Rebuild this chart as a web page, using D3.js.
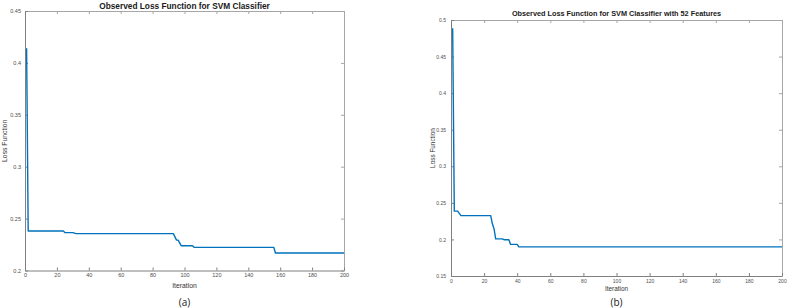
<!DOCTYPE html>
<html>
<head>
<meta charset="utf-8">
<script src="https://cdn.jsdelivr.net/npm/d3@7"></script>
<style>
  body { margin: 0; background: #fff; }
  svg { display: block; }
</style>
</head>
<body>
<div id="chart"></div>
<script>
// left panel (a): loss per iteration
const iterA = [1, 2, 24, 25, 30, 32, 93, 95, 96, 98, 105, 106, 156, 157, 200]
const lossA = [0.414, 0.238, 0.238, 0.2365, 0.2365, 0.2355, 0.2355, 0.2293, 0.2293, 0.2238, 0.2238, 0.2223, 0.2223, 0.2168, 0.2168]

// right panel (b): 52 features
const iterB = [1, 2, 4, 6, 24, 25, 26, 27, 31, 32, 35, 36, 40, 41, 200]
const lossB = [0.4887, 0.2387, 0.2387, 0.2325, 0.2325, 0.2214, 0.2146, 0.2008, 0.2008, 0.1996, 0.1996, 0.1932, 0.1932, 0.1898, 0.1898]

const xTicks = [0, 20, 40, 60, 80, 100, 120, 140, 160, 180, 200]
const yTicksA = [0.2, 0.25, 0.3, 0.35, 0.4, 0.45]
const yTicksB = [0.15, 0.2, 0.25, 0.3, 0.35, 0.4, 0.45, 0.5]

const width = 789
const height = 308

const svg = d3.select("#chart")
    .append("svg")
    .attr("width", width)
    .attr("height", height)
    .attr("viewBox", [0, 0, width, height])

svg.append("rect").attr("width", width).attr("height", height).attr("fill", "#fff")

const fmt = d => d3.format("")(+d.toFixed(2))

function panel(opt) {
    const x = d3.scaleLinear([0, 200], [opt.left, opt.right])
    const y = d3.scaleLinear(opt.yDomain, [opt.bottom, opt.top])
    const g = svg.append("g").attr("font-family", "Arial, 'Liberation Sans', sans-serif")

    // box with inward ticks on all four sides
    const styleAxis = (sel, color, labels) => {
        sel.select(".domain").attr("stroke", color).attr("stroke-width", 1)
        sel.selectAll(".tick line").attr("stroke", color)
        sel.selectAll(".tick text").attr("fill", "#4d4d4d").attr("font-size", opt.tickFont)
        if (!labels) sel.selectAll(".tick text").remove()
    }

    g.append("g")
        .attr("transform", `translate(0,${opt.top})`)
        .call(d3.axisTop(x).tickValues(xTicks).tickSizeInner(-3).tickSizeOuter(0))
        .call(s => styleAxis(s, "#a6a6a6", false))
    g.append("g")
        .attr("transform", `translate(${opt.right},0)`)
        .call(d3.axisRight(y).tickValues(opt.yTicks).tickSizeInner(-3).tickSizeOuter(0))
        .call(s => styleAxis(s, "#a6a6a6", false))
    g.append("g")
        .attr("transform", `translate(0,${opt.bottom})`)
        .call(d3.axisBottom(x).tickValues(xTicks).tickSizeInner(-3).tickSizeOuter(0).tickPadding(opt.xPad))
        .call(s => styleAxis(s, "#808080", true))
    g.append("g")
        .attr("transform", `translate(${opt.left},0)`)
        .call(d3.axisLeft(y).tickValues(opt.yTicks).tickSizeInner(-3).tickSizeOuter(0).tickPadding(opt.yPad).tickFormat(fmt))
        .call(s => styleAxis(s, "#808080", true))

    const line = d3.line()
        .x((d, i) => x(opt.iters[i]))
        .y(d => y(d))

    g.append("path")
        .datum(opt.values)
        .attr("fill", "none")
        .attr("stroke", "#0072BD")
        .attr("stroke-width", 1.4)
        .attr("stroke-linejoin", "round")
        .attr("d", line)

    const cx = (opt.left + opt.right) / 2
    g.append("text")
        .attr("x", cx)
        .attr("y", opt.titleY)
        .attr("text-anchor", "middle")
        .attr("font-weight", "bold")
        .attr("font-size", opt.titleFont)
        .attr("fill", "#1a1a1a")
        .text(opt.title)

    g.append("text")
        .attr("x", cx)
        .attr("y", opt.xLabelY)
        .attr("text-anchor", "middle")
        .attr("font-size", opt.labelFont)
        .attr("fill", "#333")
        .text("Iteration")

    g.append("text")
        .attr("transform", `translate(${opt.yLabelX},${(opt.top + opt.bottom) / 2}) rotate(-90)`)
        .attr("text-anchor", "middle")
        .attr("font-size", opt.labelFont)
        .attr("fill", "#333")
        .text("Loss Function")

    g.append("text")
        .attr("x", cx)
        .attr("y", 306)
        .attr("text-anchor", "middle")
        .attr("font-family", "'Open Sans', sans-serif")
        .attr("font-size", 10)
        .attr("fill", "#222")
        .text(opt.caption)
}

panel({
    left: 25, right: 344, top: 11, bottom: 270.5,
    yDomain: [0.2, 0.45], yTicks: yTicksA,
    iters: iterA, values: lossA,
    title: "Observed Loss Function for SVM Classifier",
    titleFont: 8.3, titleY: 8.5,
    tickFont: 5.5, xPad: 3, yPad: 4,
    labelFont: 6.8, xLabelY: 288, yLabelX: 7,
    caption: "(a)"
})

panel({
    left: 451, right: 782, top: 20, bottom: 276,
    yDomain: [0.15, 0.5], yTicks: yTicksB,
    iters: iterB, values: lossB,
    title: "Observed Loss Function for SVM Classifier with 52 Features",
    titleFont: 7.3, titleY: 15.5,
    tickFont: 5, xPad: 3, yPad: 5,
    labelFont: 6.4, xLabelY: 291, yLabelX: 435,
    caption: "(b)"
})
</script>
</body>
</html>
